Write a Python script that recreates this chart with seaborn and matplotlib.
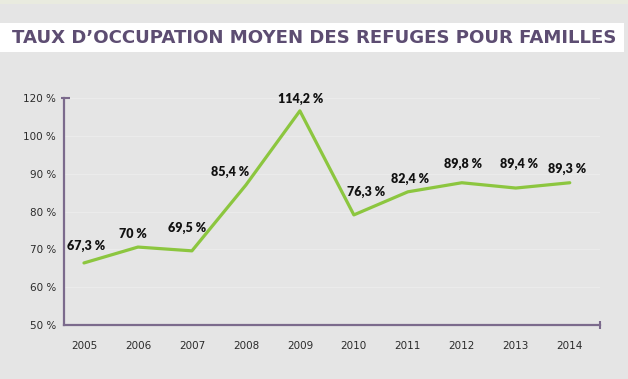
import numpy as np
import pandas as pd
import matplotlib
matplotlib.use("Agg")
import matplotlib.pyplot as plt
from matplotlib.patches import Rectangle
import seaborn as sns

# ---- data ----
years = ["2005", "2006", "2007", "2008", "2009", "2010", "2011", "2012", "2013", "2014"]
# line heights as drawn in the reference (its y scale is labelled irregularly)
plotted = [66.4, 70.6, 69.6, 87.0, 106.6, 79.1, 85.2, 87.6, 86.2, 87.6]
value_labels = ["67,3 %", "70 %", "69,5 %", "85,4 %", "114,2 %", "76,3 %",
                "82,4 %", "89,8 %", "89,4 %", "89,3 %"]
ytick_values = [50, 60, 70, 80, 90, 100, 110]
ytick_labels = ["50 %", "60 %", "70 %", "80 %", "90 %", "100 %", "120 %"]
title = "TAUX D\u2019OCCUPATION MOYEN DES REFUGES POUR FAMILLES"

# label offsets (pixels, dx right, dy up) -- style only
label_dx = [2, -5, -5, -16, 1, 12, 2, 1, 3, -3]
label_dy = [17, 13, 23, 13, 12, 23, 13, 19, 24, 14]

BG = "#e5e5e5"
PURPLE = "#7b6a8c"
TITLE_C = "#5d4d72"
GREEN = "#8cc63f"
TXT = "#2b2b2b"

sns.set_theme(style="white")
plt.rcParams["font.family"] = ["DejaVu Sans"]

W, H = 628, 379
fig = plt.figure(figsize=(W / 100, H / 100), dpi=100, facecolor=BG)

# decorative bands
fig.patches.append(Rectangle((0, 1 - 4 / H), 1, 4 / H, transform=fig.transFigure,
                             facecolor="#e9ebdf", edgecolor="none", zorder=0))
fig.patches.append(Rectangle((0, 1 - 52 / H), 624 / W, (52 - 23) / H,
                             transform=fig.transFigure, facecolor="white",
                             edgecolor="none", zorder=0))

ax = fig.add_axes([64 / W, 1 - 325 / H, (600 - 64) / W, (325 - 98) / H])
ax.set_facecolor(BG)

df = pd.DataFrame({"idx": np.arange(len(years)), "val": plotted})
sns.lineplot(data=df, x="idx", y="val", color=GREEN, lw=2.3, ax=ax)

ax.set_xlim(-0.37, 9.56)
ax.set_ylim(50, 110)
ax.set_xlabel("")
ax.set_ylabel("")

for s in ["top", "right"]:
    ax.spines[s].set_visible(False)
for s in ["left", "bottom"]:
    ax.spines[s].set_color(PURPLE)
    ax.spines[s].set_linewidth(1.6)

ax.set_yticks(ytick_values)
ax.set_yticklabels(ytick_labels)
ax.tick_params(axis="y", length=0, pad=5.8, labelsize=7.5, labelcolor=TXT)
ax.yaxis.grid(True, color="#ebebeb", lw=0.9)
ax.set_axisbelow(True)

ax.set_xticks(np.arange(len(years)))
ax.set_xticklabels(years)
ax.tick_params(axis="x", which="major", length=0, pad=11.5, labelsize=7.5, labelcolor=TXT)
ax.set_xticks(np.arange(len(years) - 1) + 0.5, minor=True)
ax.tick_params(axis="x", which="minor", length=5, width=1.5, color=PURPLE, direction="out")

# end caps of the axes
ax.plot([1, 1], [-0.018, 0.018], transform=ax.transAxes, color=PURPLE, lw=1.5,
        clip_on=False, solid_capstyle="butt")
ax.plot([-0.006, 0.012], [1, 1], transform=ax.transAxes, color=PURPLE, lw=1.5,
        clip_on=False, solid_capstyle="butt")

for i, (v, lab) in enumerate(zip(plotted, value_labels)):
    ax.annotate(lab, (i, v), xytext=(label_dx[i] * 0.72, label_dy[i] * 0.72),
                textcoords="offset points", ha="center", va="center",
                fontsize=9, fontweight="heavy", family=["Lato", "DejaVu Sans"],
                color="#111111")

t = fig.text(12 / W, 1 - 43 / H, title, ha="left", va="baseline",
             fontsize=13, fontweight="bold", color=TITLE_C)
fig.canvas.draw()
bb = t.get_window_extent(fig.canvas.get_renderer())
t.set_fontsize(13 * 603 / bb.width)

fig.savefig("out.png", dpi=100, facecolor=BG)
